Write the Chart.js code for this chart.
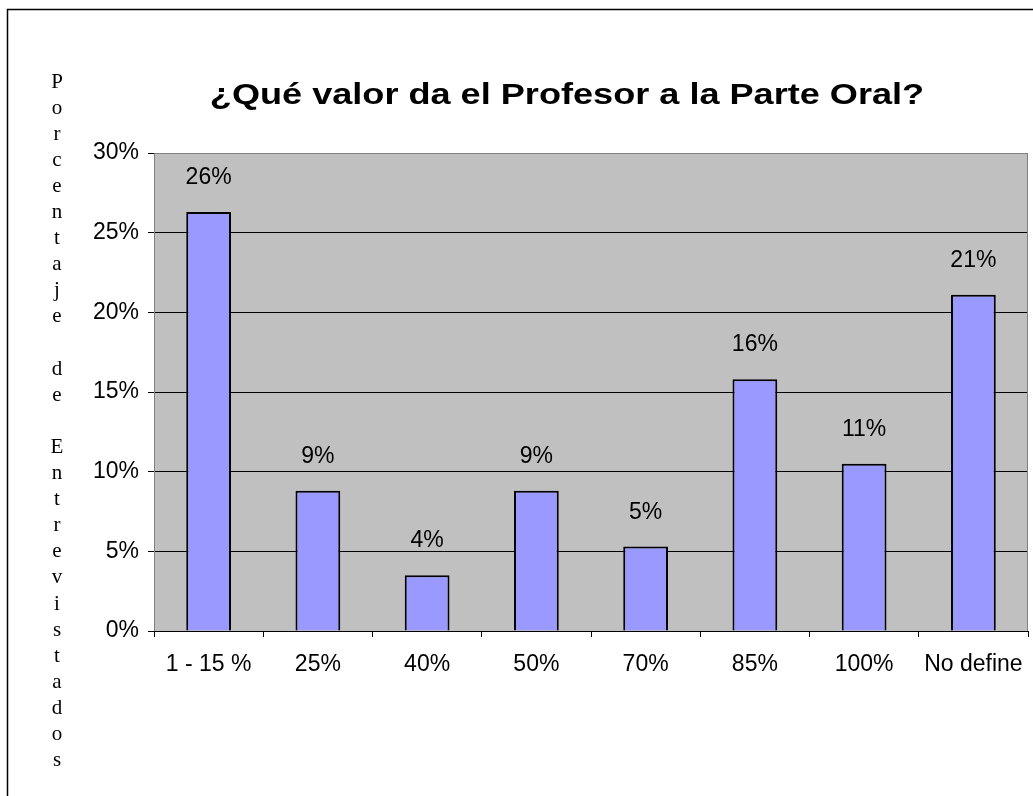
<!DOCTYPE html>
<html>
<head>
<meta charset="utf-8">
<script src="https://cdn.jsdelivr.net/npm/chart.js@4"></script>
<style>
  html, body { margin: 0; padding: 0; background: #fff; }
  #wrap { width: 1033px; height: 796px; position: relative; }
</style>
</head>
<body>
<div id="wrap"><canvas id="grafico"></canvas></div>
<script>
// datos
const categorias = ['1 - 15 %', '25%', '40%', '50%', '70%', '85%', '100%', 'No define'];
const porcentajes = [26.3, 8.8, 3.5, 8.8, 5.3, 15.8, 10.5, 21.1];
const etiquetas = ['26%', '9%', '4%', '9%', '5%', '16%', '11%', '21%'];
const ticksY = [0, 5, 10, 15, 20, 25, 30];
const titulo = '¿Qué valor da el Profesor a la Parte Oral?';
const tituloEje = 'Porcentaje de Entrevistados';

// fondo gris del area de trazado + marco exterior
const fondoPlugin = {
    id: 'fondo',
    beforeDraw(chart) {
        const { ctx, chartArea: a } = chart;
        ctx.save();
        ctx.fillStyle = '#C0C0C0';
        ctx.fillRect(a.left, a.top, a.right - a.left, a.bottom - a.top);
        ctx.strokeStyle = '#000';
        ctx.lineWidth = 1.5;
        ctx.strokeRect(7.5, 9.5, 2000, 2000);
        ctx.restore();
    },
    afterDraw(chart) {
        const { ctx, chartArea: a } = chart;
        ctx.save();
        ctx.strokeStyle = '#808080';
        ctx.lineWidth = 1;
        ctx.beginPath();
        ctx.moveTo(a.left + 0.5, a.bottom);
        ctx.lineTo(a.left + 0.5, a.top + 0.5);
        ctx.lineTo(a.right - 0.5, a.top + 0.5);
        ctx.lineTo(a.right - 0.5, a.bottom);
        ctx.stroke();
        ctx.strokeStyle = '#000';
        ctx.beginPath();
        ctx.moveTo(a.left, a.bottom + 0.5);
        ctx.lineTo(a.right, a.bottom + 0.5);
        ctx.stroke();

        // titulo (estirado en horizontal como en el original)
        ctx.save();
        ctx.fillStyle = '#000';
        ctx.font = 'bold 29px "Liberation Sans", Arial, sans-serif';
        ctx.textAlign = 'center';
        ctx.textBaseline = 'alphabetic';
        ctx.translate(567, 104);
        ctx.scale(1.245, 1);
        ctx.fillText(titulo, 0, 0);
        ctx.restore();

        // titulo del eje Y, letras apiladas
        ctx.fillStyle = '#000';
        ctx.font = '21px "Liberation Serif", "Times New Roman", serif';
        ctx.textAlign = 'center';
        ctx.textBaseline = 'middle';
        const letras = tituloEje.split('');
        letras.forEach((l, i) => {
            if (l !== ' ') ctx.fillText(l, 57, 82 + i * 26.1);
        });
        ctx.restore();
    }
};

// etiquetas de valor encima de cada barra
const etiquetasPlugin = {
    id: 'etiquetas',
    afterDatasetsDraw(chart) {
        const { ctx } = chart;
        const meta = chart.getDatasetMeta(0);
        ctx.save();
        ctx.fillStyle = '#000';
        ctx.font = '23px "Liberation Sans", Arial, sans-serif';
        ctx.textAlign = 'center';
        ctx.textBaseline = 'alphabetic';
        meta.data.forEach((bar, i) => {
            ctx.fillText(etiquetas[i], bar.x, bar.y - 28);
        });
        ctx.restore();
    }
};

window.onload = function () {
    const ctx = document.getElementById('grafico').getContext('2d');
    new Chart(ctx, {
        type: 'bar',
        data: {
            labels: categorias,
            datasets: [{
                data: porcentajes,
                backgroundColor: '#9999FF',
                borderColor: '#000',
                borderWidth: 2,
                borderSkipped: 'start',
                categoryPercentage: 1,
                barPercentage: 0.41
            }]
        },
        options: {
            responsive: true,
            maintainAspectRatio: false,
            animation: false,
            layout: { padding: { top: 153, right: 5, left: 0, bottom: 0 } },
            plugins: {
                legend: { display: false },
                tooltip: { enabled: false },
                title: { display: false }
            },
            scales: {
                x: {
                    grid: {
                        display: true,
                        offset: true,
                        drawOnChartArea: false,
                        tickLength: 6,
                        color: '#000',
                        tickColor: '#000'
                    },
                    border: { display: false },
                    ticks: {
                        color: '#000',
                        padding: 14,
                        maxRotation: 0,
                        font: { family: '"Liberation Sans", Arial, sans-serif', size: 23 }
                    },
                    afterFit(scale) {
                        scale.height = 165;
                        scale.paddingLeft = 0;
                        scale.paddingRight = 0;
                    }
                },
                y: {
                    min: 0,
                    max: 30,
                    afterBuildTicks(scale) { scale.ticks = ticksY.map(v => ({ value: v })); },
                    grid: {
                        color: c => (c.tick && c.tick.value === 30) ? '#808080' : '#000',
                        tickColor: '#000',
                        tickLength: 6,
                        lineWidth: 1
                    },
                    border: { display: false },
                    ticks: {
                        color: '#000',
                        padding: 9,
                        font: { family: '"Liberation Sans", Arial, sans-serif', size: 23 },
                        callback: v => v + '%'
                    },
                    afterFit(scale) {
                        scale.width = 154;
                        scale.paddingTop = 0;
                        scale.paddingBottom = 0;
                    }
                }
            }
        },
        plugins: [fondoPlugin, etiquetasPlugin]
    });
};
</script>
</body>
</html>
